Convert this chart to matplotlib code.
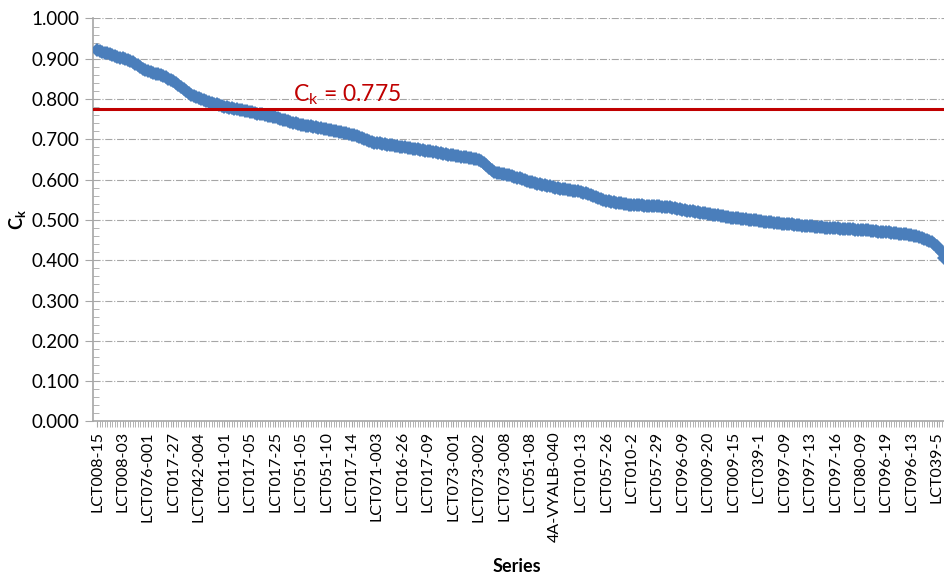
import matplotlib
matplotlib.use('agg')
import matplotlib.pyplot as plt
from matplotlib.ticker import MultipleLocator, FormatStrFormatter

plt.rcParams['font.family'] = ['Lato', 'DejaVu Sans']
plt.rcParams['mathtext.fontset'] = 'custom'
plt.rcParams['mathtext.rm'] = 'Lato'

# Ck value per series, sorted descending (10 series per label)
ck_values = [
    0.921, 0.919, 0.917, 0.915, 0.914, 0.911, 0.909, 0.907, 0.905, 0.903,
    0.901, 0.899, 0.896, 0.894, 0.892, 0.888, 0.884, 0.879, 0.875, 0.872,
    0.869, 0.867, 0.865, 0.863, 0.861, 0.859, 0.857, 0.854, 0.851, 0.848,
    0.845, 0.841, 0.836, 0.831, 0.826, 0.820, 0.815, 0.811, 0.808, 0.805,
    0.802, 0.800, 0.797, 0.795, 0.793, 0.791, 0.789, 0.787, 0.785, 0.783,
    0.781, 0.780, 0.779, 0.778, 0.776, 0.775, 0.774, 0.773, 0.771, 0.770,
    0.768, 0.767, 0.766, 0.764, 0.763, 0.762, 0.760, 0.759, 0.757, 0.756,
    0.755, 0.753, 0.751, 0.749, 0.747, 0.745, 0.743, 0.741, 0.740, 0.738,
    0.736, 0.735, 0.734, 0.733, 0.732, 0.731, 0.730, 0.729, 0.727, 0.726,
    0.725, 0.724, 0.723, 0.721, 0.720, 0.719, 0.718, 0.717, 0.715, 0.714,
    0.712, 0.711, 0.709, 0.707, 0.704, 0.701, 0.698, 0.695, 0.693, 0.692,
    0.691, 0.690, 0.689, 0.688, 0.687, 0.686, 0.685, 0.684, 0.683, 0.682,
    0.681, 0.680, 0.679, 0.678, 0.677, 0.676, 0.675, 0.674, 0.673, 0.672,
    0.671, 0.670, 0.669, 0.668, 0.667, 0.665, 0.664, 0.663, 0.662, 0.661,
    0.660, 0.659, 0.658, 0.657, 0.656, 0.655, 0.654, 0.653, 0.652, 0.650,
    0.648, 0.646, 0.642, 0.636, 0.629, 0.623, 0.619, 0.617, 0.616, 0.615,
    0.614, 0.612, 0.611, 0.609, 0.607, 0.605, 0.603, 0.601, 0.599, 0.597,
    0.595, 0.593, 0.592, 0.590, 0.589, 0.587, 0.586, 0.584, 0.583, 0.581,
    0.580, 0.579, 0.578, 0.577, 0.576, 0.575, 0.574, 0.573, 0.572, 0.571,
    0.570, 0.568, 0.566, 0.564, 0.562, 0.560, 0.557, 0.554, 0.552, 0.550,
    0.548, 0.546, 0.545, 0.544, 0.543, 0.542, 0.541, 0.540, 0.539, 0.538,
    0.537, 0.537, 0.536, 0.536, 0.536, 0.535, 0.535, 0.535, 0.535, 0.534,
    0.534, 0.534, 0.533, 0.533, 0.532, 0.531, 0.530, 0.529, 0.527, 0.526,
    0.525, 0.524, 0.523, 0.522, 0.521, 0.520, 0.519, 0.518, 0.517, 0.516,
    0.515, 0.514, 0.513, 0.512, 0.511, 0.510, 0.509, 0.508, 0.507, 0.506,
    0.505, 0.504, 0.504, 0.503, 0.502, 0.502, 0.501, 0.500, 0.500, 0.499,
    0.498, 0.497, 0.496, 0.496, 0.495, 0.494, 0.493, 0.493, 0.492, 0.491,
    0.490, 0.490, 0.489, 0.489, 0.488, 0.488, 0.487, 0.486, 0.486, 0.485,
    0.484, 0.484, 0.483, 0.483, 0.482, 0.482, 0.481, 0.481, 0.480, 0.480,
    0.479, 0.479, 0.478, 0.478, 0.478, 0.477, 0.477, 0.477, 0.476, 0.476,
    0.475, 0.475, 0.474, 0.474, 0.473, 0.473, 0.472, 0.471, 0.471, 0.470,
    0.469, 0.469, 0.468, 0.467, 0.467, 0.466, 0.465, 0.464, 0.464, 0.463,
    0.462, 0.461, 0.460, 0.458, 0.456, 0.453, 0.450, 0.447, 0.444, 0.440,
    0.435, 0.429, 0.420, 0.405,
]

# labels shown on the category axis (every 10th series)
tick_labels = [
    'LCT008-15', 'LCT008-03', 'LCT076-001', 'LCT017-27', 'LCT042-004',
    'LCT011-01', 'LCT017-05', 'LCT017-25', 'LCT051-05', 'LCT051-10',
    'LCT017-14', 'LCT071-003', 'LCT016-26', 'LCT017-09', 'LCT073-001',
    'LCT073-002', 'LCT073-008', 'LCT051-08', '4A-VYALB-040', 'LCT010-13',
    'LCT057-26', 'LCT010-2', 'LCT057-29', 'LCT096-09', 'LCT009-20',
    'LCT009-15', 'LCT039-1', 'LCT097-09', 'LCT097-13', 'LCT097-16',
    'LCT080-09', 'LCT096-19', 'LCT096-13', 'LCT039-5',
]
label_step = 10
ck_limit = 0.775

grid_col = '#A6A6A6'
blue = '#4A7EBB'
red = '#C00000'

fig = plt.figure(figsize=(9.45, 5.78), dpi=100)
ax = fig.add_axes([0.0984, 0.271, 0.9016, 0.697])

x = list(range(len(ck_values)))
ax.plot(x, ck_values, linestyle='none', marker='D', markersize=7,
        color=blue, markeredgewidth=0, zorder=3)

ax.axhline(ck_limit, color=red, lw=2.2, zorder=4)
ax.text(77, ck_limit + 0.006, r'C$_{\mathregular{k}}$ = 0.775', color=red,
        fontsize=16.5, ha='left', va='bottom')

ax.set_ylim(0, 1.0)
ax.set_xlim(-1.6, 333.2)
ax.yaxis.set_major_locator(MultipleLocator(0.1))
ax.yaxis.set_minor_locator(MultipleLocator(0.02))
ax.yaxis.set_major_formatter(FormatStrFormatter('%.3f'))
ax.set_xticks(range(0, len(tick_labels) * label_step, label_step))
ax.set_xticklabels(tick_labels, rotation=90)
ax.set_xticks(x, minor=True)

ax.grid(axis='y', which='major', color=grid_col, linestyle='-.', lw=0.8)
for s in ['top', 'right']:
    ax.spines[s].set_visible(False)
for s in ['left', 'bottom']:
    ax.spines[s].set_color(grid_col)
    ax.spines[s].set_linewidth(1.2)

ax.tick_params(axis='y', which='major', length=6, color=grid_col,
               labelsize=13.5, pad=4)
ax.tick_params(axis='y', which='minor', direction='in', length=4,
               color=grid_col)
ax.tick_params(axis='x', which='major', length=4, color=grid_col,
               labelsize=11.5, pad=3)
ax.tick_params(axis='x', which='minor', length=4, width=0.6, color=grid_col)

fig.text(517 / 945, 1 - 566 / 578, 'Series', fontsize=13, fontweight='bold',
         ha='center', va='center')
ax.set_ylabel(r'C$_{\mathregular{k}}$', fontsize=13, fontweight='bold',
              labelpad=2)

fig.savefig('out.png', dpi=100)
